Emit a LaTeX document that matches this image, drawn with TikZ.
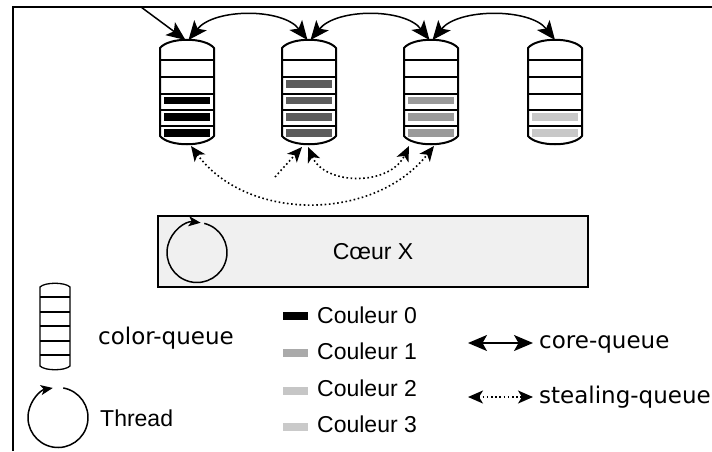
\documentclass[tikz,border=0pt]{standalone}
\usepackage{fontspec}
\setmainfont{Liberation Sans}
\newfontfamily\djv{DejaVu Sans}
\usetikzlibrary{arrows.meta}
\definecolor{boxfill}{HTML}{F0F0F0}
\definecolor{qc0}{HTML}{000000}
\definecolor{qc1}{HTML}{5C5C5C}
\definecolor{qc2}{HTML}{9A9A9A}
\definecolor{qc3}{HTML}{C8C8C8}
\definecolor{lc1}{HTML}{AAAAAA}
\definecolor{lc2}{HTML}{C6C6C6}
\definecolor{lc3}{HTML}{CACACA}
\begin{document}
\begin{tikzpicture}[x=1pt,y=1pt,yscale=-1,
  frameln/.style={line width=2pt, line join=miter},
  qline/.style={line width=2pt, line join=round},
  lqline/.style={line width=1.3pt, line join=round},
  coreln/.style={line width=1.5pt},
  coreboth/.style={coreln, arrows={Stealth[length=19pt,width=16pt,inset=4.5pt]-Stealth[length=19pt,width=16pt,inset=4.5pt]}},
  coreone/.style={coreln, arrows={-Stealth[length=19pt,width=16pt,inset=4.5pt]}},
  stealln/.style={line width=1.6pt, dash pattern=on 1.6pt off 2.6pt},
  stealboth/.style={stealln, arrows={Stealth[length=15pt,width=13pt,inset=4pt]-Stealth[length=15pt,width=13pt,inset=4pt]}},
  stealone/.style={stealln, arrows={-Stealth[length=15pt,width=13pt,inset=4pt]}},
  tln/.style={line width=1.5pt, arrows={-Stealth[length=12pt,width=10pt,inset=3pt]}},
  corebox/.style={draw=black, line width=1.2pt, fill=boxfill, minimum width=430pt,
     minimum height=71pt, inner sep=0pt, font=\fontsize{23}{27}\selectfont},
  lbl/.style={inner sep=0pt, font=\fontsize{23}{27}\selectfont},
  dlbl/.style={inner sep=0pt, font=\djv\fontsize{23}{27}\selectfont},
]
\useasboundingbox (0,0) rectangle (712,451);

% frame
\draw[frameln] (13,451) -- (13,7) -- (712,7);

% queue coordinates
\coordinate (q1t) at (187,40);
\coordinate (q2t) at (309,40);
\coordinate (q3t) at (431,40);
\coordinate (q4t) at (555,40);
\coordinate (entry) at (141,7);

% bars
\foreach \yy in {100.5,117,133} \fill[qc0] (187-23,\yy-3.75) rectangle ++(46,7.5);
\foreach \yy in {84,100.5,117,133} \fill[qc1] (309-23,\yy-3.75) rectangle ++(46,7.5);
\foreach \yy in {100.5,117,133} \fill[qc2] (431-23,\yy-3.75) rectangle ++(46,7.5);
\foreach \yy in {117,133} \fill[qc3] (555-23,\yy-3.75) rectangle ++(46,7.5);

% queues
\foreach \cx in {187,309,431,555} {
  \draw[qline] (\cx-27,48) .. controls (\cx-18,37) and (\cx+18,37) .. (\cx+27,48) -- (\cx+27,136)
     .. controls (\cx+18,147) and (\cx-18,147) .. (\cx-27,136) -- cycle;
  \foreach \yy in {60,77,94,110,126} \draw[qline] (\cx-27,\yy) -- (\cx+27,\yy);
}

% core-queue arrows
\draw[coreone] (entry) -- ([xshift=-1.5pt]q1t);
\draw[coreboth] ([xshift=1.5pt]q1t) .. controls +(26,-32) and +(-25,-32) .. ([xshift=-1.5pt]q2t);
\draw[coreboth] ([xshift=1.5pt]q2t) .. controls +(26,-32) and +(-25,-32) .. ([xshift=-1.5pt]q3t);
\draw[coreboth] ([xshift=1.5pt]q3t) .. controls +(26,-32) and +(-25,-32) .. ([xshift=0pt]q4t);

% stealing arrows
\coordinate (q1b) at (191,146);
\coordinate (q2bl) at (302,147);
\coordinate (q2br) at (308,147);
\coordinate (q3bl) at (409,146);
\coordinate (q3br) at (434,146);
\coordinate (sfree) at (275,177);
\draw[stealboth] (q1b) .. controls +(56,76) and +(-60,76) .. (q3br);
\draw[stealboth] (q2br) .. controls +(17,39) and +(-19,40) .. (q3bl);
\draw[stealone] (sfree) -- (q2bl);

% core box
\node[corebox] (core) at (373,251.5) {Cœur X};
\coordinate (thr1) at (197,252.5);
\draw[tln] (thr1) ++(-76:30) arc[start angle=-76, end angle=277, radius=30pt];

% legend: color-queue
\draw[lqline] (40,287) .. controls (45,282) and (65,282) .. (70,287) -- (70,366)
   .. controls (65,371) and (45,371) .. (40,366) -- cycle;
\foreach \yy in {297,312,326,341,355} \draw[lqline] (40,\yy) -- (70,\yy);
\node[dlbl, anchor=base west] (lqueue) at (98,344) {color-queue};

% legend: thread
\coordinate (thr2) at (58,417.5);
\draw[tln] (thr2) ++(-80:30) arc[start angle=-80, end angle=260, radius=30pt];
\node[lbl, anchor=base west] (lthread) at (100,426) {Thread};

% legend: colours
\fill[qc0] (283,311.5) rectangle (308,319.5);
\fill[lc1] (283,349) rectangle (308,357);
\fill[lc2] (283,386.5) rectangle (308,394.5);
\fill[lc3] (283,422.5) rectangle (308,430.5);
\node[lbl, anchor=base west] (lc0t) at (317,323) {Couleur 0};
\node[lbl, anchor=base west] (lc1t) at (317,359) {Couleur 1};
\node[lbl, anchor=base west] (lc2t) at (317,396) {Couleur 2};
\node[lbl, anchor=base west] (lc3t) at (317,432) {Couleur 3};

% legend: arrows
\coordinate (ca) at (468,343);
\coordinate (cb) at (533,343);
\coordinate (sa) at (468,397);
\coordinate (sb) at (533,397);
\draw[coreboth] (ca) -- (cb);
\draw[stealboth] (sa) -- (sb);
\node[dlbl, anchor=base west] (lcore) at (539,348) {core-queue};
\node[dlbl, anchor=base west] (lsteal) at (539,403) {stealing-queue};
\end{tikzpicture}
\end{document}
